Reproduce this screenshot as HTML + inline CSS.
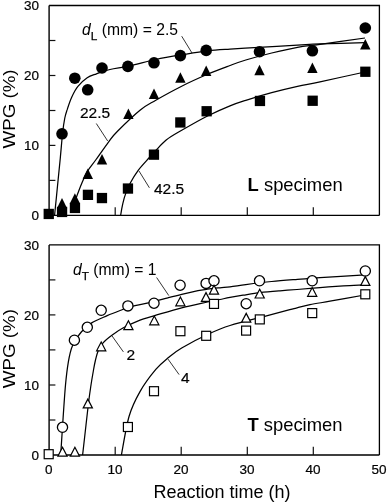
<!DOCTYPE html><html><head><meta charset="utf-8"><style>html,body{margin:0;padding:0;background:#fff}</style></head><body><svg width="387" height="503" viewBox="0 0 387 503" style="display:block;will-change:transform">
<rect width="387" height="503" fill="#fff"/>
<path d="M49.1 5.5 H379.4 V215.4" fill="none" stroke="#000" stroke-width="1.3"/>
<path d="M49.1 5.5 V215.4 H379.4" fill="none" stroke="#000" stroke-width="1.4"/>
<path d="M49.1 180.4 h6.3" stroke="#111" stroke-width="1.2"/>
<path d="M49.1 145.4 h6.3" stroke="#111" stroke-width="1.2"/>
<path d="M49.1 110.5 h6.3" stroke="#111" stroke-width="1.2"/>
<path d="M49.1 75.5 h6.3" stroke="#111" stroke-width="1.2"/>
<path d="M49.1 40.5 h6.3" stroke="#111" stroke-width="1.2"/>
<path d="M115.2 215.4 v-8.2" stroke="#111" stroke-width="1.2"/>
<path d="M181.2 215.4 v-8.2" stroke="#111" stroke-width="1.2"/>
<path d="M247.3 215.4 v-8.2" stroke="#111" stroke-width="1.2"/>
<path d="M313.3 215.4 v-8.2" stroke="#111" stroke-width="1.2"/>
<text x="39" y="220.3" text-anchor="end" font-size="13.5" font-family="Liberation Sans, sans-serif" fill="#000" stroke="#000" stroke-width="0.2">0</text>
<text x="39" y="150.3" text-anchor="end" font-size="13.5" font-family="Liberation Sans, sans-serif" fill="#000" stroke="#000" stroke-width="0.2">10</text>
<text x="39" y="80.4" text-anchor="end" font-size="13.5" font-family="Liberation Sans, sans-serif" fill="#000" stroke="#000" stroke-width="0.2">20</text>
<text x="39" y="10.4" text-anchor="end" font-size="13.5" font-family="Liberation Sans, sans-serif" fill="#000" stroke="#000" stroke-width="0.2">30</text>
<text transform="translate(14.5 109.0) rotate(-90) scale(1.078 1)" text-anchor="middle" font-size="17.4" font-family="Liberation Sans, sans-serif" fill="#000">WPG (%)</text>
<path d="M49.1 244.9 H379.4 V455.0" fill="none" stroke="#000" stroke-width="1.3"/>
<path d="M49.1 244.9 V455.0 H379.4" fill="none" stroke="#000" stroke-width="1.4"/>
<path d="M49.1 420.0 h6.3" stroke="#111" stroke-width="1.2"/>
<path d="M49.1 385.0 h6.3" stroke="#111" stroke-width="1.2"/>
<path d="M49.1 349.9 h6.3" stroke="#111" stroke-width="1.2"/>
<path d="M49.1 314.9 h6.3" stroke="#111" stroke-width="1.2"/>
<path d="M49.1 279.9 h6.3" stroke="#111" stroke-width="1.2"/>
<path d="M115.2 455.0 v-8.2" stroke="#111" stroke-width="1.2"/>
<path d="M181.2 455.0 v-8.2" stroke="#111" stroke-width="1.2"/>
<path d="M247.3 455.0 v-8.2" stroke="#111" stroke-width="1.2"/>
<path d="M313.3 455.0 v-8.2" stroke="#111" stroke-width="1.2"/>
<text x="39" y="459.9" text-anchor="end" font-size="13.5" font-family="Liberation Sans, sans-serif" fill="#000" stroke="#000" stroke-width="0.2">0</text>
<text x="39" y="389.9" text-anchor="end" font-size="13.5" font-family="Liberation Sans, sans-serif" fill="#000" stroke="#000" stroke-width="0.2">10</text>
<text x="39" y="319.8" text-anchor="end" font-size="13.5" font-family="Liberation Sans, sans-serif" fill="#000" stroke="#000" stroke-width="0.2">20</text>
<text x="39" y="249.8" text-anchor="end" font-size="13.5" font-family="Liberation Sans, sans-serif" fill="#000" stroke="#000" stroke-width="0.2">30</text>
<text transform="translate(14.5 348.6) rotate(-90) scale(1.078 1)" text-anchor="middle" font-size="17.4" font-family="Liberation Sans, sans-serif" fill="#000">WPG (%)</text>
<text x="48.8" y="474.3" text-anchor="middle" font-size="13.5" font-family="Liberation Sans, sans-serif" fill="#000" stroke="#000" stroke-width="0.2">0</text>
<text x="114.9" y="474.3" text-anchor="middle" font-size="13.5" font-family="Liberation Sans, sans-serif" fill="#000" stroke="#000" stroke-width="0.2">10</text>
<text x="180.9" y="474.3" text-anchor="middle" font-size="13.5" font-family="Liberation Sans, sans-serif" fill="#000" stroke="#000" stroke-width="0.2">20</text>
<text x="247.0" y="474.3" text-anchor="middle" font-size="13.5" font-family="Liberation Sans, sans-serif" fill="#000" stroke="#000" stroke-width="0.2">30</text>
<text x="313.0" y="474.3" text-anchor="middle" font-size="13.5" font-family="Liberation Sans, sans-serif" fill="#000" stroke="#000" stroke-width="0.2">40</text>
<text x="379.1" y="474.3" text-anchor="middle" font-size="13.5" font-family="Liberation Sans, sans-serif" fill="#000" stroke="#000" stroke-width="0.2">50</text>
<text x="222" y="497.7" text-anchor="middle" font-size="18" font-family="Liberation Sans, sans-serif" fill="#000">Reaction time (h)</text>
<path d="M54.6 215.0 C55.1 210.0 56.7 194.5 57.6 185.0 C58.5 175.5 59.5 166.5 60.3 158.0 C61.1 149.5 61.8 140.7 62.5 134.0 C63.2 127.3 64.0 122.0 64.8 118.0 C65.6 114.0 65.9 113.4 67.1 109.9 C68.2 106.4 69.9 101.1 71.7 97.2 C73.5 93.3 75.3 89.6 77.9 86.4 C80.5 83.2 84.1 79.9 87.2 77.8 C90.3 75.7 92.7 75.2 96.5 73.8 C100.3 72.4 104.4 70.8 110.0 69.5 C115.6 68.2 122.4 67.6 130.0 65.9 C137.6 64.2 147.2 61.4 155.8 59.5 C164.4 57.6 173.1 56.2 181.7 54.8 C190.3 53.4 199.4 51.8 207.5 50.9 C215.6 50.0 221.4 49.7 230.0 49.1 C238.6 48.5 247.6 47.9 258.8 47.3 C270.1 46.6 287.3 45.8 297.5 45.2 C307.7 44.6 308.8 44.3 320.0 43.9 C331.2 43.5 357.5 42.8 365.0 42.6" fill="none" stroke="#000" stroke-width="1.25"/>
<path d="M72.8 208.0 C73.2 206.7 73.9 204.1 75.4 200.0 C76.9 195.9 79.8 188.0 81.8 183.3 C83.8 178.6 84.9 175.5 87.2 171.6 C89.5 167.7 92.2 164.9 95.7 160.0 C99.2 155.1 104.9 146.8 108.5 142.0 C112.1 137.2 112.2 136.5 117.5 131.2 C122.8 125.9 133.6 115.4 140.0 110.2 C146.4 105.0 148.9 104.2 155.8 100.2 C162.8 96.2 173.1 90.5 181.7 86.2 C190.3 81.9 199.4 77.8 207.5 74.3 C215.6 70.8 223.6 67.9 230.0 65.5 C236.4 63.1 238.9 62.1 245.8 60.0 C252.8 57.9 263.1 55.1 271.7 53.0 C280.3 50.9 289.4 48.7 297.5 47.3 C305.6 45.9 308.8 45.9 320.0 44.4 C331.2 42.9 357.5 39.1 365.0 38.0" fill="none" stroke="#000" stroke-width="1.25"/>
<path d="M120.7 215.0 C121.0 213.1 122.0 207.2 122.8 203.7 C123.6 200.2 124.2 197.5 125.5 194.1 C126.8 190.7 128.2 187.0 130.3 183.0 C132.4 179.0 135.0 174.6 138.2 170.3 C141.4 166.1 146.5 160.8 149.4 157.5 C152.3 154.2 153.0 153.4 155.8 150.5 C158.6 147.6 161.9 143.4 166.2 140.0 C170.5 136.6 174.8 134.3 181.7 130.3 C188.6 126.3 199.4 120.1 207.5 116.0 C215.6 111.9 223.6 108.4 230.0 105.8 C236.4 103.2 238.9 102.5 245.8 100.3 C252.8 98.1 263.1 95.0 271.7 92.7 C280.3 90.4 289.4 88.2 297.5 86.4 C305.6 84.6 308.8 84.2 320.0 81.8 C331.2 79.4 357.5 73.6 365.0 72.0" fill="none" stroke="#000" stroke-width="1.25"/>
<path d="M60.7 455.0 C61.0 450.3 61.7 438.7 62.5 427.0 C63.3 415.3 64.5 395.9 65.5 385.0 C66.5 374.1 67.3 368.2 68.4 361.7 C69.5 355.2 70.2 351.1 72.3 346.2 C74.4 341.2 78.1 335.9 81.3 332.0 C84.5 328.1 87.4 325.6 91.7 322.9 C96.0 320.2 102.5 317.7 107.2 315.6 C111.9 313.5 116.3 311.9 120.1 310.5 C123.9 309.1 124.3 308.4 130.0 306.9 C135.7 305.4 147.7 303.1 154.0 301.6 C160.3 300.1 163.3 299.0 167.9 297.8 C172.5 296.6 176.7 295.5 181.7 294.3 C186.7 293.1 193.7 291.5 198.0 290.6 C202.3 289.8 203.8 289.7 207.5 289.2 C211.2 288.7 216.2 288.2 220.0 287.8 C223.8 287.4 225.7 287.3 230.0 286.8 C234.3 286.3 238.9 285.5 245.8 284.6 C252.8 283.7 263.1 282.4 271.7 281.5 C280.3 280.6 289.4 280.0 297.5 279.4 C305.6 278.8 308.8 278.4 320.0 277.7 C331.2 276.9 357.5 275.4 365.0 274.9" fill="none" stroke="#000" stroke-width="1.25"/>
<path d="M82.6 455.0 C83.2 450.0 85.0 433.7 86.0 425.0 C87.0 416.3 87.7 409.7 88.5 403.0 C89.3 396.3 90.2 390.5 91.0 385.0 C91.8 379.5 92.8 374.2 93.5 370.0 C94.2 365.8 94.7 363.3 95.5 360.0 C96.3 356.7 97.2 352.9 98.5 350.0 C99.8 347.1 101.0 345.1 103.3 342.6 C105.6 340.1 109.2 337.3 112.6 334.8 C115.9 332.3 118.8 330.2 123.4 327.8 C128.0 325.4 134.9 322.1 140.0 320.1 C145.1 318.1 147.1 317.9 154.0 315.8 C160.9 313.8 172.8 310.1 181.7 307.8 C190.6 305.5 201.1 303.4 207.5 302.0 C213.9 300.6 216.2 300.3 220.0 299.5 C223.8 298.7 226.2 298.1 230.0 297.4 C233.8 296.7 238.0 296.0 243.0 295.2 C248.0 294.4 253.8 293.3 260.0 292.6 C266.2 291.9 273.8 291.3 280.0 290.8 C286.2 290.3 290.3 290.0 297.0 289.5 C303.7 289.0 312.2 288.2 320.0 287.6 C327.8 287.0 336.1 286.3 343.5 285.8 C350.9 285.3 361.1 285.0 364.6 284.8" fill="none" stroke="#000" stroke-width="1.25"/>
<path d="M121.4 455.0 C122.7 448.5 126.0 426.8 129.1 416.2 C132.2 405.6 135.6 399.4 140.0 391.6 C144.4 383.8 151.0 375.1 155.8 369.4 C160.6 363.7 164.5 360.9 168.8 357.3 C173.1 353.7 175.2 351.8 181.7 348.0 C188.1 344.2 199.4 338.2 207.5 334.5 C215.6 330.8 220.2 328.6 230.0 325.5 C239.8 322.4 256.5 318.5 266.5 315.9 C276.5 313.3 284.7 311.0 289.8 309.7 C294.9 308.4 293.6 308.6 297.0 307.8 C300.4 307.0 304.5 305.8 310.0 304.7 C315.5 303.6 320.9 302.8 330.0 301.2 C339.1 299.6 358.8 296.0 364.6 295.0" fill="none" stroke="#000" stroke-width="1.25"/>
<path d="M181.7 36.2 L192.0 53.0" stroke="#000" stroke-width="0.8"/>
<path d="M96.3 123.5 L107.7 141.0" stroke="#000" stroke-width="0.8"/>
<path d="M139.0 171.0 L149.4 187.8" stroke="#000" stroke-width="0.8"/>
<path d="M156.6 277.5 L168.8 295.6" stroke="#000" stroke-width="0.8"/>
<path d="M111.8 335.6 L123.4 351.9" stroke="#000" stroke-width="0.8"/>
<path d="M168.0 359.1 L179.1 374.6" stroke="#000" stroke-width="0.8"/>
<circle cx="62.0" cy="133.8" r="5.8" fill="#000"/>
<circle cx="74.8" cy="78.2" r="5.8" fill="#000"/>
<circle cx="87.7" cy="89.8" r="5.8" fill="#000"/>
<circle cx="102.0" cy="68.0" r="5.8" fill="#000"/>
<circle cx="127.9" cy="66.4" r="5.8" fill="#000"/>
<circle cx="154.0" cy="62.8" r="5.8" fill="#000"/>
<circle cx="180.4" cy="55.6" r="5.8" fill="#000"/>
<circle cx="206.2" cy="50.4" r="5.8" fill="#000"/>
<circle cx="259.5" cy="51.7" r="5.8" fill="#000"/>
<circle cx="312.4" cy="50.8" r="5.8" fill="#000"/>
<circle cx="365.3" cy="28.0" r="5.8" fill="#000"/>
<path d="M62.0 198.0 l5.2 10.5 h-10.4 z" fill="#000"/>
<path d="M74.9 193.2 l5.2 10.5 h-10.4 z" fill="#000"/>
<path d="M87.8 168.6 l5.2 10.5 h-10.4 z" fill="#000"/>
<path d="M102.0 153.9 l5.2 10.5 h-10.4 z" fill="#000"/>
<path d="M128.4 108.5 l5.2 10.5 h-10.4 z" fill="#000"/>
<path d="M154.0 88.5 l5.2 10.5 h-10.4 z" fill="#000"/>
<path d="M180.4 72.3 l5.2 10.5 h-10.4 z" fill="#000"/>
<path d="M206.2 65.5 l5.2 10.5 h-10.4 z" fill="#000"/>
<path d="M259.5 64.8 l5.2 10.5 h-10.4 z" fill="#000"/>
<path d="M312.4 62.5 l5.2 10.5 h-10.4 z" fill="#000"/>
<path d="M365.3 38.9 l5.2 10.5 h-10.4 z" fill="#000"/>
<rect x="43.6" y="208.8" width="10.3" height="10.3" fill="#000"/>
<rect x="56.9" y="206.8" width="10.3" height="10.3" fill="#000"/>
<rect x="69.8" y="202.8" width="10.3" height="10.3" fill="#000"/>
<rect x="82.8" y="189.7" width="10.3" height="10.3" fill="#000"/>
<rect x="96.8" y="192.9" width="10.3" height="10.3" fill="#000"/>
<rect x="122.8" y="183.4" width="10.3" height="10.3" fill="#000"/>
<rect x="148.8" y="149.5" width="10.3" height="10.3" fill="#000"/>
<rect x="175.2" y="117.3" width="10.3" height="10.3" fill="#000"/>
<rect x="201.5" y="106.1" width="10.3" height="10.3" fill="#000"/>
<rect x="254.8" y="95.8" width="10.3" height="10.3" fill="#000"/>
<rect x="307.5" y="95.6" width="10.3" height="10.3" fill="#000"/>
<rect x="360.2" y="66.6" width="10.3" height="10.3" fill="#000"/>
<circle cx="62.5" cy="427.3" r="5.1" fill="#fff" stroke="#000" stroke-width="1.3"/>
<circle cx="74.4" cy="340.2" r="5.1" fill="#fff" stroke="#000" stroke-width="1.3"/>
<circle cx="87.3" cy="327.3" r="5.1" fill="#fff" stroke="#000" stroke-width="1.3"/>
<circle cx="101.2" cy="310.3" r="5.1" fill="#fff" stroke="#000" stroke-width="1.3"/>
<circle cx="127.9" cy="305.9" r="5.1" fill="#fff" stroke="#000" stroke-width="1.3"/>
<circle cx="154.0" cy="303.2" r="5.1" fill="#fff" stroke="#000" stroke-width="1.3"/>
<circle cx="180.1" cy="285.2" r="5.1" fill="#fff" stroke="#000" stroke-width="1.3"/>
<circle cx="206.1" cy="283.4" r="5.1" fill="#fff" stroke="#000" stroke-width="1.3"/>
<circle cx="214.0" cy="280.8" r="5.1" fill="#fff" stroke="#000" stroke-width="1.3"/>
<circle cx="246.2" cy="303.7" r="5.1" fill="#fff" stroke="#000" stroke-width="1.3"/>
<circle cx="259.5" cy="280.8" r="5.1" fill="#fff" stroke="#000" stroke-width="1.3"/>
<circle cx="312.2" cy="280.8" r="5.1" fill="#fff" stroke="#000" stroke-width="1.3"/>
<circle cx="365.3" cy="271.0" r="5.1" fill="#fff" stroke="#000" stroke-width="1.3"/>
<path d="M62.5 447.3 l4.6 8.8 h-9.2 z" fill="#fff" stroke="#000" stroke-width="1.2" stroke-linejoin="miter"/>
<path d="M74.9 447.3 l4.6 8.8 h-9.2 z" fill="#fff" stroke="#000" stroke-width="1.2" stroke-linejoin="miter"/>
<path d="M87.8 399.1 l4.6 8.8 h-9.2 z" fill="#fff" stroke="#000" stroke-width="1.2" stroke-linejoin="miter"/>
<path d="M101.2 342.0 l4.6 8.8 h-9.2 z" fill="#fff" stroke="#000" stroke-width="1.2" stroke-linejoin="miter"/>
<path d="M128.4 320.8 l4.6 8.8 h-9.2 z" fill="#fff" stroke="#000" stroke-width="1.2" stroke-linejoin="miter"/>
<path d="M154.3 316.0 l4.6 8.8 h-9.2 z" fill="#fff" stroke="#000" stroke-width="1.2" stroke-linejoin="miter"/>
<path d="M180.4 297.0 l4.6 8.8 h-9.2 z" fill="#fff" stroke="#000" stroke-width="1.2" stroke-linejoin="miter"/>
<path d="M206.0 292.6 l4.6 8.8 h-9.2 z" fill="#fff" stroke="#000" stroke-width="1.2" stroke-linejoin="miter"/>
<path d="M214.0 285.3 l4.6 8.8 h-9.2 z" fill="#fff" stroke="#000" stroke-width="1.2" stroke-linejoin="miter"/>
<path d="M246.2 313.4 l4.6 8.8 h-9.2 z" fill="#fff" stroke="#000" stroke-width="1.2" stroke-linejoin="miter"/>
<path d="M259.7 289.2 l4.6 8.8 h-9.2 z" fill="#fff" stroke="#000" stroke-width="1.2" stroke-linejoin="miter"/>
<path d="M312.2 287.5 l4.6 8.8 h-9.2 z" fill="#fff" stroke="#000" stroke-width="1.2" stroke-linejoin="miter"/>
<path d="M365.3 276.6 l4.6 8.8 h-9.2 z" fill="#fff" stroke="#000" stroke-width="1.2" stroke-linejoin="miter"/>
<rect x="44.2" y="449.7" width="9" height="9" fill="#fff" stroke="#000" stroke-width="1.2"/>
<rect x="123.4" y="422.5" width="9" height="9" fill="#fff" stroke="#000" stroke-width="1.2"/>
<rect x="149.5" y="386.7" width="9" height="9" fill="#fff" stroke="#000" stroke-width="1.2"/>
<rect x="175.9" y="326.7" width="9" height="9" fill="#fff" stroke="#000" stroke-width="1.2"/>
<rect x="201.7" y="331.3" width="9" height="9" fill="#fff" stroke="#000" stroke-width="1.2"/>
<rect x="209.5" y="299.4" width="9" height="9" fill="#fff" stroke="#000" stroke-width="1.2"/>
<rect x="241.6" y="326.1" width="9" height="9" fill="#fff" stroke="#000" stroke-width="1.2"/>
<rect x="255.3" y="314.9" width="9" height="9" fill="#fff" stroke="#000" stroke-width="1.2"/>
<rect x="307.7" y="308.6" width="9" height="9" fill="#fff" stroke="#000" stroke-width="1.2"/>
<rect x="360.8" y="289.8" width="9" height="9" fill="#fff" stroke="#000" stroke-width="1.2"/>
<text x="82.1" y="34.9" font-size="15.7" font-family="Liberation Sans, sans-serif" fill="#000" ><tspan font-style="italic">d</tspan><tspan font-size="11.8" dy="5.3" stroke="#000" stroke-width="0.25">L</tspan><tspan dy="-5.3"> (mm) = 2.5</tspan></text>
<text x="73.0" y="274.9" font-size="15.7" font-family="Liberation Sans, sans-serif" fill="#000" ><tspan font-style="italic">d</tspan><tspan font-size="11.8" dy="5.3" stroke="#000" stroke-width="0.25">T</tspan><tspan dy="-5.3"> (mm) = 1</tspan></text>
<text x="80.0" y="117.8" font-size="15.5" font-family="Liberation Sans, sans-serif" fill="#000" stroke="#000" stroke-width="0.2">22.5</text>
<text x="154.0" y="193.5" font-size="15.5" font-family="Liberation Sans, sans-serif" fill="#000" stroke="#000" stroke-width="0.2">42.5</text>
<text x="126.6" y="360.4" font-size="15.5" font-family="Liberation Sans, sans-serif" fill="#000" stroke="#000" stroke-width="0.2">2</text>
<text x="180.9" y="383.1" font-size="15.5" font-family="Liberation Sans, sans-serif" fill="#000" stroke="#000" stroke-width="0.2">4</text>
<text x="247.6" y="190.9" font-size="18.4" font-family="Liberation Sans, sans-serif" fill="#000" ><tspan font-weight="bold">L</tspan> specimen</text>
<text x="247.4" y="430.9" font-size="18.4" font-family="Liberation Sans, sans-serif" fill="#000" ><tspan font-weight="bold">T</tspan> specimen</text>
</svg></body></html>
